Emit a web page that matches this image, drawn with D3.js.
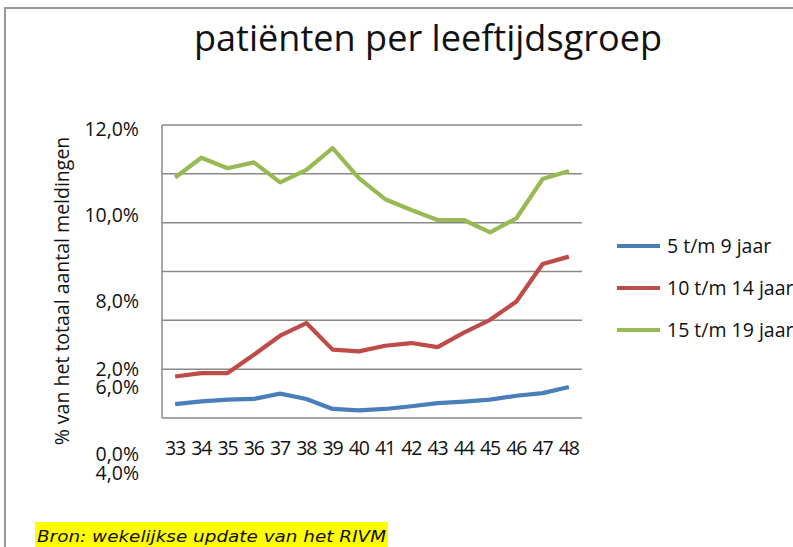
<!DOCTYPE html>
<html><head><meta charset="utf-8">
<script src="https://cdn.jsdelivr.net/npm/d3@7"></script>
<style>
html,body{margin:0;padding:0;background:#fff;overflow:hidden;}
svg{display:block;}
</style></head>
<body>
<svg id="c" width="793" height="547"></svg>
<script>
// ---- data ----
const weeks = ["33","34","35","36","37","38","39","40","41","42","43","44","45","46","47","48"];
const seriesNames = ["5 t/m 9 jaar","10 t/m 14 jaar","15 t/m 19 jaar"];
const age5to9   = [0.57,0.68,0.75,0.78,1.00,0.78,0.37,0.31,0.37,0.48,0.61,0.67,0.75,0.91,1.02,1.27];
const age10to14 = [1.70,1.84,1.84,2.59,3.37,3.89,2.80,2.73,2.96,3.07,2.90,3.50,4.02,4.77,6.31,6.61];
const age15to19 = [9.85,10.66,10.23,10.47,9.65,10.16,11.05,9.82,8.96,8.52,8.11,8.11,7.60,8.18,9.79,10.12];
const gridValues = [0,2,4,6,8,10,12];
const yLabelsA = ["12,0%","10,0%","8,0%","6,0%","4,0%"];
const yLabelsB = ["2,0%","0,0%"];
const colors = ["#4a7ebb","#be4b48","#98b954"];
const title = "patiënten per leeftijdsgroep";
const yTitle = "% van het totaal aantal meldingen";
const source = "Bron: wekelijkse update van het RIVM";

const svg = d3.select("#c");
const font = "'Open Sans', sans-serif";

// frame
svg.append("rect").attr("x",5).attr("y",8).attr("width",820).attr("height",600)
  .attr("fill","none").attr("stroke","#9a9a9a").attr("stroke-width",2);

// scales
const L=162, R=582, T=125, B=418;
const x = d3.scaleBand().domain(weeks).range([L,R]);
const y = d3.scaleLinear().domain([0,12]).range([B,T]);

// grid
svg.append("g").selectAll("line").data(gridValues).join("line")
  .attr("x1",L).attr("x2",R).attr("y1",d=>y(d)).attr("y2",d=>y(d))
  .attr("stroke","#888").attr("stroke-width",1.5);
svg.append("line").attr("x1",L).attr("x2",L).attr("y1",T).attr("y2",B)
  .attr("stroke","#888").attr("stroke-width",1.5);

// lines
const data = [age5to9, age10to14, age15to19];
const line = d3.line().x((d,i)=>x(weeks[i])+x.bandwidth()/2).y(d=>y(d));
svg.append("g").selectAll("path").data(data).join("path")
  .attr("d",line).attr("fill","none").attr("stroke",(d,i)=>colors[i])
  .attr("stroke-width",4.2).attr("stroke-linejoin","round");

// x labels
svg.append("g").selectAll("text").data(weeks).join("text")
  .attr("x",d=>x(d)+x.bandwidth()/2).attr("y",455)
  .attr("text-anchor","middle").attr("font-family",font).attr("font-size",19.5)
  .attr("fill","#111").attr("letter-spacing",-1).text(d=>d);

// y labels (garbled placement as in reference)
const yA = d3.scalePoint().domain(yLabelsA).range([129,473]);
const yB = d3.scalePoint().domain(yLabelsB).range([369,454]);
const ylab = svg.append("g").attr("font-family",font).attr("font-size",19.5).attr("fill","#111").attr("text-anchor","end");
ylab.selectAll("text.a").data(yLabelsA).join("text").attr("class","a")
  .attr("x",139).attr("y",d=>yA(d)).attr("dy","0.36em").text(d=>d);
ylab.selectAll("text.b").data(yLabelsB).join("text").attr("class","b")
  .attr("x",139).attr("y",d=>yB(d)).attr("dy","0.36em").text(d=>d);

// y title
svg.append("text").attr("transform","translate(69,291) rotate(-90)")
  .attr("text-anchor","middle").attr("font-family",font).attr("font-size",19.5)
  .attr("fill","#111").text(yTitle);

// title
svg.append("text").attr("x",428).attr("y",51).attr("text-anchor","middle")
  .attr("font-family",font).attr("font-size",36).attr("fill","#111")
  .attr("textLength",468).attr("lengthAdjust","spacingAndGlyphs").text(title);

// legend
const lg = svg.append("g").selectAll("g").data(seriesNames).join("g")
  .attr("transform",(d,i)=>`translate(617,${246+i*42})`);
lg.append("line").attr("x1",0).attr("x2",43).attr("stroke",(d,i)=>colors[i]).attr("stroke-width",4.2);
lg.append("text").attr("x",50).attr("dy","0.36em").attr("font-family",font).attr("font-size",19.5)
  .attr("fill","#111").text(d=>d);

// source
svg.append("rect").attr("x",35).attr("y",522).attr("width",353).attr("height",30).attr("fill","#ffff00");
svg.append("text").attr("x",37).attr("y",542).attr("font-family","'DejaVu Sans', Verdana, sans-serif")
  .attr("font-style","italic").attr("font-size",15.5).attr("fill","#111").attr("textLength",349)
  .attr("lengthAdjust","spacingAndGlyphs").text(source);
</script>
</body></html>
